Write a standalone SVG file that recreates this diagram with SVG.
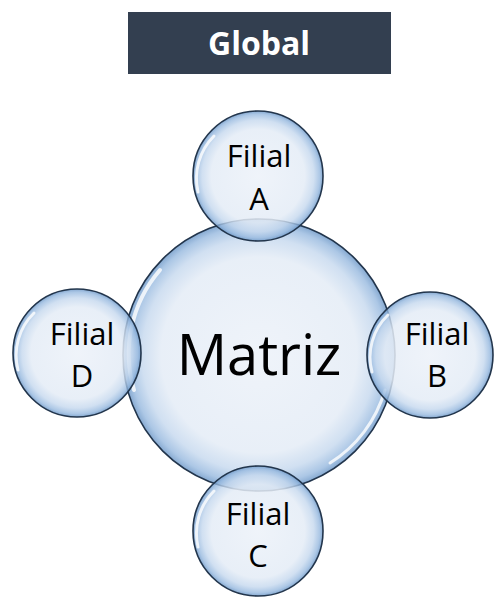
<svg xmlns="http://www.w3.org/2000/svg" width="496" height="598" viewBox="0 0 496 598">
  <defs>
    <radialGradient id="bubble" cx="0.5" cy="0.5" r="0.5">
      <stop offset="0" stop-color="#EDF2F9" stop-opacity="0.88"/>
      <stop offset="0.72" stop-color="#E4ECF6" stop-opacity="0.85"/>
      <stop offset="0.86" stop-color="#C5D8EE" stop-opacity="0.8"/>
      <stop offset="0.95" stop-color="#97B9DF" stop-opacity="0.8"/>
      <stop offset="1" stop-color="#6F99C8" stop-opacity="0.85"/>
    </radialGradient>
  </defs>
  <style>
    .bub { fill: url(#bubble); stroke: #22354C; stroke-width: 1.6; }
    .hl { fill: none; stroke: #FFFFFF; stroke-opacity: 0.8; stroke-linecap: round; }
    .lbl { font-family: "Open Sans", "Liberation Sans", sans-serif; font-size: 31px; fill: #000000; text-anchor: middle; }
    .big { font-family: "Open Sans", "Liberation Sans", sans-serif; font-size: 56px; fill: #000000; text-anchor: middle; }
    .title { font-family: "Open Sans", "Liberation Sans", sans-serif; font-size: 32px; font-weight: bold; fill: #FFFFFF; text-anchor: middle; }
  </style>

  <g id="global">
    <rect x="128" y="12" width="263" height="62" fill="#333F50"/>
    <text class="title" x="259" y="55">Global</text>
  </g>

  <g id="matriz">
    <circle class="bub" cx="259" cy="355" r="136"/>
    <path class="hl" stroke-width="4" d="M 134 390 A 128 128 0 0 1 160 270"/>
    <path class="hl" stroke-width="3" d="M 330 463 A 128 128 0 0 0 385 390" stroke-opacity="0.5"/>
  </g>

  <g id="filial-a">
    <circle class="bub" cx="258" cy="176" r="65"/>
    <path class="hl" stroke-width="3" d="M 198 192 A 60 60 0 0 1 214 136"/>
    <text class="lbl" x="259" y="167">Filial</text>
    <text class="lbl" x="259" y="210">A</text>
  </g>

  <g id="filial-d">
    <circle class="bub" cx="77" cy="353" r="64"/>
    <path class="hl" stroke-width="3" d="M 18 370 A 59 59 0 0 1 34 313"/>
    <text class="lbl" x="82" y="345">Filial</text>
    <text class="lbl" x="82" y="387">D</text>
  </g>

  <g id="filial-b">
    <circle class="bub" cx="430" cy="355" r="63"/>
    <path class="hl" stroke-width="3" d="M 372 372 A 58 58 0 0 1 388 315"/>
    <text class="lbl" x="437" y="345">Filial</text>
    <text class="lbl" x="437" y="387">B</text>
  </g>

  <g id="filial-c">
    <circle class="bub" cx="258" cy="531" r="65"/>
    <path class="hl" stroke-width="3" d="M 198 547 A 60 60 0 0 1 214 491"/>
    <text class="lbl" x="258" y="525">Filial</text>
    <text class="lbl" x="258" y="567">C</text>
  </g>

  <g id="matriz-label">
    <text class="big" x="259" y="375">Matriz</text>
  </g>
</svg>
